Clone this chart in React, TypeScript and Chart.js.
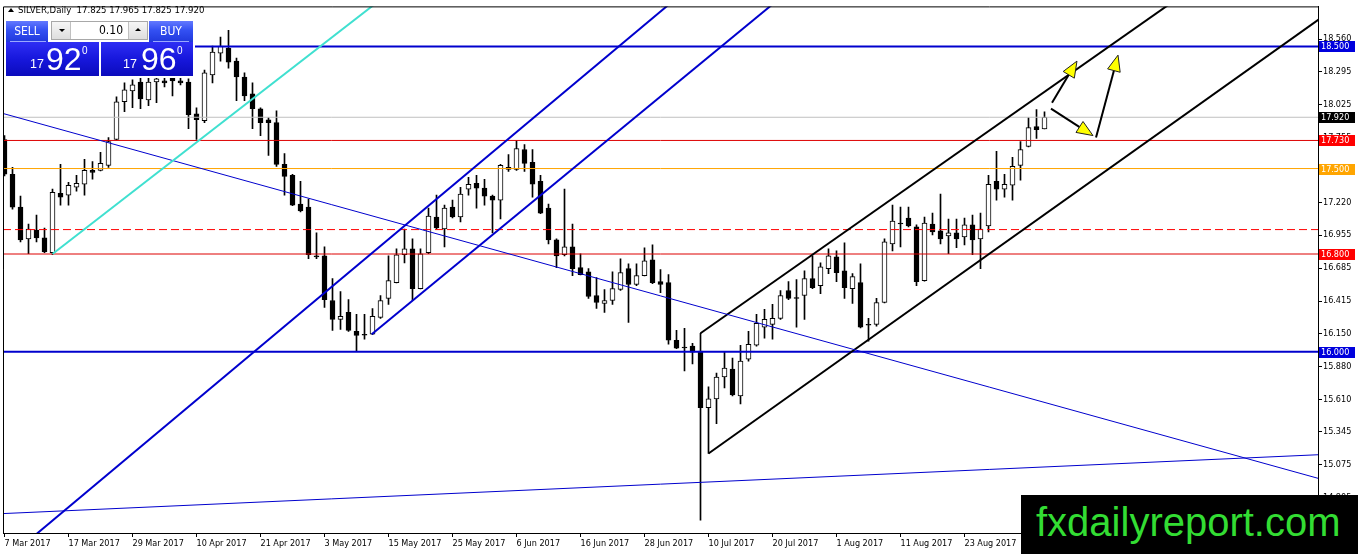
import React, { useEffect, useRef } from 'react';
import { Chart, registerables } from 'chart.js';
Chart.register(...registerables);

// ---- data ----
const opens = [17.738,17.453,17.184,16.924,16.997,16.932,16.810,17.298,17.282,17.347,17.371,17.485,17.485,17.526,17.738,18.047,18.136,18.209,18.063,18.209,18.218,18.250,18.218,18.209,17.949,17.892,18.266,18.445,18.486,18.380,18.250,18.112,17.990,17.900,17.876,17.534,17.444,17.209,17.184,16.785,16.785,16.419,16.265,16.322,16.167,16.143,16.143,16.281,16.436,16.566,16.794,16.843,16.517,16.810,17.103,17.005,17.184,17.103,17.331,17.379,17.339,17.274,17.241,17.493,17.493,17.656,17.550,17.396,17.176,16.916,16.794,16.859,16.688,16.655,16.460,16.395,16.419,16.509,16.680,16.550,16.623,16.753,16.574,16.566,16.094,16.037,16.045,16.004,15.541,15.614,15.793,15.858,15.638,15.939,16.053,16.200,16.224,16.273,16.501,16.444,16.460,16.598,16.541,16.680,16.777,16.663,16.517,16.566,16.224,16.224,16.403,16.883,17.054,17.095,17.022,16.582,17.046,16.989,16.948,16.973,16.940,17.038,16.924,17.030,17.396,17.331,17.363,17.526,17.681,17.843,17.825];
const highs = [17.770,17.510,17.274,17.046,17.119,17.013,17.331,17.534,17.388,17.444,17.575,17.558,17.632,17.754,18.087,18.201,18.226,18.266,18.266,18.299,18.283,18.315,18.283,18.234,17.998,18.307,18.502,18.576,18.632,18.405,18.283,18.201,17.998,17.917,17.973,17.623,17.453,17.396,17.249,16.973,16.859,16.598,16.493,16.427,16.305,16.305,16.354,16.460,16.785,16.843,17.005,16.924,16.843,17.176,17.282,17.200,17.241,17.347,17.428,17.444,17.412,17.282,17.534,17.615,17.729,17.697,17.656,17.444,17.209,16.924,17.331,17.046,16.802,16.680,16.606,16.509,16.655,16.761,16.720,16.720,16.851,16.875,16.672,16.631,16.175,16.191,16.069,16.151,15.712,15.825,15.996,15.947,16.053,16.167,16.305,16.346,16.387,16.501,16.574,16.590,16.663,16.785,16.728,16.843,16.826,16.891,16.639,16.720,16.273,16.436,16.924,17.200,17.184,17.184,17.038,17.103,17.135,17.290,17.087,17.087,17.095,17.119,17.135,17.444,17.640,17.453,17.591,17.721,17.917,17.982,17.965];
const lows = [17.440,17.168,16.899,16.802,16.899,16.810,16.794,17.200,17.200,17.314,17.282,17.412,17.480,17.510,17.735,17.965,17.998,17.990,18.014,18.039,18.169,18.095,18.185,17.827,17.738,17.876,18.201,18.380,18.323,18.055,18.055,17.827,17.770,17.607,17.518,17.282,17.195,17.144,16.761,16.761,16.362,16.175,16.183,16.167,16.004,16.102,16.140,16.273,16.387,16.563,16.728,16.419,16.514,16.802,17.005,16.859,17.095,17.062,17.282,17.176,17.200,16.973,17.087,17.477,17.485,17.477,17.266,17.130,16.883,16.688,16.785,16.623,16.628,16.436,16.354,16.322,16.387,16.501,16.240,16.541,16.620,16.558,16.484,16.061,16.025,15.842,15.899,14.621,15.166,15.410,15.703,15.638,15.573,15.923,16.045,16.110,16.102,16.265,16.427,16.200,16.265,16.517,16.476,16.639,16.574,16.436,16.395,16.195,16.086,16.208,16.400,16.826,16.859,17.022,16.541,16.578,16.956,16.883,16.802,16.851,16.875,16.794,16.680,16.981,17.241,17.266,17.241,17.404,17.678,17.746,17.825];
const closes = [17.453,17.184,16.916,17.005,16.932,16.818,17.306,17.266,17.363,17.379,17.485,17.469,17.542,17.721,18.047,18.144,18.185,18.071,18.209,18.234,18.201,18.218,18.201,17.941,17.900,18.283,18.454,18.502,18.372,18.250,18.095,17.990,17.876,17.876,17.534,17.436,17.200,17.152,16.794,16.777,16.427,16.265,16.289,16.175,16.134,16.136,16.289,16.419,16.582,16.794,16.843,16.517,16.802,17.111,17.013,17.176,17.103,17.290,17.371,17.339,17.274,17.241,17.526,17.510,17.664,17.542,17.371,17.135,16.916,16.785,16.859,16.680,16.631,16.452,16.403,16.419,16.517,16.647,16.550,16.623,16.745,16.566,16.550,16.094,16.029,16.030,15.996,15.541,15.614,15.793,15.866,15.646,15.923,16.061,16.232,16.265,16.273,16.460,16.436,16.437,16.598,16.525,16.696,16.785,16.647,16.525,16.615,16.200,16.217,16.403,16.899,17.070,17.047,17.030,16.574,17.054,16.981,16.924,16.973,16.924,17.038,16.916,17.005,17.371,17.331,17.371,17.518,17.656,17.835,17.819,17.920];

const tickIndex = [0, 8, 16, 24, 32, 40, 48, 56, 64, 72, 80, 88, 96, 104, 112, 120];
const tickLabels = ['7 Mar 2017','17 Mar 2017','29 Mar 2017','10 Apr 2017','21 Apr 2017','3 May 2017','15 May 2017','25 May 2017','6 Jun 2017','16 Jun 2017','28 Jun 2017','10 Jul 2017','20 Jul 2017','1 Aug 2017','11 Aug 2017','23 Aug 2017'];
const priceTicks = [18.56, 18.295, 18.025, 17.755, 17.49, 17.22, 16.955, 16.685, 16.415, 16.15, 15.88, 15.61, 15.345, 15.075, 14.805];

const levelPrices = [18.5, 17.92, 17.73, 17.5, 17.0, 16.8, 16.0];
const levelStyles = [
  { color: '#0000cd', width: 2, dash: [] as number[], label: '#0000dd' },
  { color: '#c0c0c0', width: 1, dash: [] as number[], label: '#000000' },
  { color: '#dd0000', width: 1, dash: [] as number[], label: '#ff0000' },
  { color: '#ffa500', width: 1, dash: [] as number[], label: '#ffa500' },
  { color: '#ff0000', width: 1, dash: [8, 4], label: '' },
  { color: '#dd0000', width: 1, dash: [] as number[], label: '#ff0000' },
  { color: '#0000cd', width: 2, dash: [] as number[], label: '#0000dd' },
];

// trend lines: [bar index, price]
const trendStart = [[6, 16.80], [-0.1875, 17.951], [-0.1875, 14.674], [4, 14.507], [45.9, 16.143], [87, 16.151], [88, 15.166]];
const trendEnd = [[47, 18.883], [164.1875, 14.963], [164.1875, 15.156], [83, 18.841], [96, 18.845], [146, 18.864], [165, 18.755]];
const trendStyles = [
  { color: '#40e0d0', width: 2 },
  { color: '#0000cd', width: 1 },
  { color: '#0000cd', width: 1 },
  { color: '#0000cd', width: 2 },
  { color: '#0000cd', width: 2 },
  { color: '#000000', width: 2 },
  { color: '#000000', width: 2 },
];

const arrowTail = [[130.94, 18.039], [130.81, 17.990], [136.44, 17.754]];
const arrowTip = [[134.06, 18.380], [136.06, 17.770], [139.19, 18.429]];

const X_MIN = -0.1875;
const X_MAX = 164.1875;
const Y_MIN = 14.515;
const Y_MAX = 18.828;

const FONT = "'DejaVu Sans Condensed', 'Liberation Sans', sans-serif";
const NUMFONT = "'Liberation Sans', Arial, sans-serif";

const framePlugin = {
  id: 'frame',
  afterDraw(chart: any) {
    const { ctx, chartArea } = chart;
    ctx.save();
    ctx.strokeStyle = '#000';
    ctx.lineWidth = 1;
    ctx.beginPath();
    ctx.moveTo(chartArea.left + 0.5, chartArea.bottom);
    ctx.lineTo(chartArea.left + 0.5, chartArea.top + 0.5);
    ctx.lineTo(chartArea.right, chartArea.top + 0.5);
    ctx.stroke();
    ctx.restore();
  },
};

const arrowPlugin = {
  id: 'arrows',
  afterDatasetsDraw(chart: any) {
    const { ctx, scales } = chart;
    ctx.save();
    arrowTail.forEach((t, k) => {
      const h = arrowTip[k];
      const x1 = scales.x.getPixelForValue(t[0]);
      const y1 = scales.y.getPixelForValue(t[1]);
      const x2 = scales.x.getPixelForValue(h[0]);
      const y2 = scales.y.getPixelForValue(h[1]);
      const dx = x2 - x1, dy = y2 - y1;
      const len = Math.hypot(dx, dy);
      const ux = dx / len, uy = dy / len;
      const hl = 16, hw = 6.5;
      const bx = x2 - ux * hl, by = y2 - uy * hl;
      ctx.strokeStyle = '#000';
      ctx.lineWidth = 2;
      ctx.beginPath();
      ctx.moveTo(x1, y1);
      ctx.lineTo(bx + ux * 2, by + uy * 2);
      ctx.stroke();
      ctx.beginPath();
      ctx.moveTo(x2, y2);
      ctx.lineTo(bx - uy * hw, by + ux * hw);
      ctx.lineTo(bx + uy * hw, by - ux * hw);
      ctx.closePath();
      ctx.fillStyle = '#ffff00';
      ctx.fill();
      ctx.lineWidth = 1;
      ctx.strokeStyle = '#222';
      ctx.stroke();
    });
    ctx.restore();
  },
};

const labelPlugin = {
  id: 'priceLabels',
  afterDraw(chart: any) {
    const { ctx, chartArea, scales } = chart;
    ctx.save();
    ctx.font = '9px ' + FONT;
    ctx.textBaseline = 'middle';
    ctx.textAlign = 'left';
    levelPrices.forEach((v, k) => {
      const st = levelStyles[k];
      if (!st.label) return;
      const py = Math.round(scales.y.getPixelForValue(v));
      ctx.fillStyle = st.label;
      ctx.fillRect(chartArea.right + 1, py - 5, 36, 11);
      ctx.fillStyle = '#ffffff';
      ctx.fillText(v.toFixed(3), chartArea.right + 3, py + 0.5);
    });
    ctx.restore();
  },
};

function buildConfig(): any {
  const idx = opens.map((_, i) => i);
  const datasets: any[] = [];
  datasets.push({
    type: 'bar',
    data: idx.map((i) => ({ x: i, y: [opens[i], closes[i]] })),
    backgroundColor: idx.map((i) => (closes[i] >= opens[i] ? '#ffffff' : '#000000')),
    borderColor: '#000000',
    borderWidth: 1,
    borderSkipped: false,
    barThickness: 5,
    maxBarThickness: 5,
    grouped: false,
    order: 10,
  });
  datasets.push({
    type: 'bar',
    data: idx.map((i) => ({ x: i, y: [lows[i], highs[i]] })),
    backgroundColor: '#000000',
    borderWidth: 0,
    barThickness: 1,
    maxBarThickness: 1,
    grouped: false,
    order: 11,
  });
  levelPrices.forEach((v, k) => {
    const st = levelStyles[k];
    datasets.push({
      type: 'line',
      data: [{ x: X_MIN, y: v }, { x: X_MAX, y: v }],
      borderColor: st.color,
      borderWidth: st.width,
      borderDash: st.dash,
      pointRadius: 0,
      fill: false,
      clip: 0,
      order: 1,
    });
  });
  trendStart.forEach((s, k) => {
    const e = trendEnd[k];
    const st = trendStyles[k];
    datasets.push({
      type: 'line',
      data: [{ x: s[0], y: s[1] }, { x: e[0], y: e[1] }],
      borderColor: st.color,
      borderWidth: st.width,
      pointRadius: 0,
      fill: false,
      clip: 0,
      order: 0,
    });
  });
  return {
    type: 'bar',
    data: { datasets },
    options: {
      animation: false,
      responsive: false,
      events: [],
      layout: { padding: { left: 3, top: 3, right: 0, bottom: 0 }, autoPadding: false },
      plugins: { legend: { display: false }, tooltip: { enabled: false } },
      scales: {
        x: {
          type: 'linear',
          min: X_MIN,
          max: X_MAX,
          offset: false,
          afterFit: (s: any) => { s.height = 21; },
          afterBuildTicks: (s: any) => { s.ticks = tickIndex.map((v) => ({ value: v })); },
          ticks: {
            callback: (v: any) => {
              const k = tickIndex.indexOf(Number(v));
              return k >= 0 ? tickLabels[k] : '';
            },
            align: 'start',
            autoSkip: false,
            maxRotation: 0,
            minRotation: 0,
            padding: 1,
            color: '#000',
            font: { family: FONT, size: 9 },
          },
          grid: { drawOnChartArea: false, drawTicks: true, tickLength: 4, color: '#000', offset: false },
          border: { display: true, color: '#000', width: 1 },
        },
        y: {
          type: 'linear',
          position: 'right',
          min: Y_MIN,
          max: Y_MAX,
          beginAtZero: false,
          afterFit: (s: any) => { s.width = 40; },
          afterBuildTicks: (s: any) => { s.ticks = priceTicks.map((v) => ({ value: v })); },
          ticks: {
            callback: (v: any) => Number(v).toFixed(3),
            autoSkip: false,
            padding: 1,
            color: '#000',
            font: { family: FONT, size: 9 },
          },
          grid: { drawOnChartArea: false, drawTicks: true, tickLength: 4, color: '#000' },
          border: { display: true, color: '#000', width: 1 },
        },
      },
    },
    plugins: [framePlugin, arrowPlugin, labelPlugin],
  };
}

const btnGrad = 'linear-gradient(to bottom, #6379ff 0%, #3350f2 45%, #2038dc 100%)';
const boxGrad = 'linear-gradient(to bottom, #2e2ef4 0%, #1717dc 50%, #0b0bbc 100%)';
const grayGrad = 'linear-gradient(to bottom, #f6f6f6 0%, #dedede 100%)';

function abs(left: number, top: number, extra: any = {}): any {
  return { position: 'absolute', left, top, ...extra };
}

export default function App() {
  const ref = useRef<HTMLCanvasElement>(null);
  useEffect(() => {
    const chart = new Chart(ref.current as HTMLCanvasElement, buildConfig());
    return () => chart.destroy();
  }, []);
  const numStyle = (left: number, top: number, size: number) =>
    abs(left, top, { fontFamily: NUMFONT, fontSize: size, lineHeight: 1, color: '#fff' });
  return (
    <div style={{ position: 'fixed', left: 0, top: 0, width: 1358, height: 554, background: '#fff', overflow: 'hidden' }}>
      <canvas ref={ref} width={1358} height={554} style={{ display: 'block', width: 1358, height: 554 }} />
      {/* header */}
      <div style={abs(8, 8, { width: 0, height: 0, borderLeft: '3px solid transparent', borderRight: '3px solid transparent', borderBottom: '4px solid #000' })} />
      <div style={abs(18, 3, { fontFamily: FONT, fontSize: 9.5, lineHeight: '14px', whiteSpace: 'pre', color: '#000' })}>SILVER,Daily  17.825 17.965 17.825 17.920</div>
      {/* trading panel */}
      <div style={abs(4, 19, { width: 191, height: 59, background: '#fff' })} />
      <div style={abs(6, 21, { width: 42, height: 21, background: btnGrad, color: '#fff', fontFamily: FONT, fontSize: 12, lineHeight: '20px', textAlign: 'center' })}>SELL</div>
      <div style={abs(10, 41, { width: 36, height: 1, background: '#9aa8ff' })} />
      <div style={abs(51, 21, { width: 97, height: 19, background: '#fff', border: '1px solid #a8a8a8', boxSizing: 'border-box' })} />
      <div style={abs(52, 22, { width: 19, height: 17, background: grayGrad, borderRight: '1px solid #c0c0c0', boxSizing: 'border-box' })}>
        <div style={abs(7, 7, { width: 0, height: 0, borderLeft: '3px solid transparent', borderRight: '3px solid transparent', borderTop: '3px solid #000' })} />
      </div>
      <div style={abs(72, 22, { width: 51, height: 17, fontFamily: FONT, fontSize: 12, lineHeight: '17px', textAlign: 'right', color: '#000' })}>0.10</div>
      <div style={abs(128, 22, { width: 19, height: 17, background: grayGrad, borderLeft: '1px solid #c0c0c0', boxSizing: 'border-box' })}>
        <div style={abs(6, 6, { width: 0, height: 0, borderLeft: '3px solid transparent', borderRight: '3px solid transparent', borderBottom: '3px solid #000' })} />
      </div>
      <div style={abs(149, 21, { width: 44, height: 21, background: btnGrad, color: '#fff', fontFamily: FONT, fontSize: 12, lineHeight: '20px', textAlign: 'center' })}>BUY</div>
      <div style={abs(153, 41, { width: 36, height: 1, background: '#9aa8ff' })} />
      <div style={abs(6, 42, { width: 93, height: 34, background: boxGrad })} />
      <div style={abs(101, 42, { width: 92, height: 34, background: boxGrad })} />
      <span style={numStyle(30, 58, 12.5)}>17</span>
      <span style={numStyle(46, 43, 32)}>92</span>
      <span style={numStyle(82, 45.5, 10)}>0</span>
      <span style={numStyle(123, 58, 12.5)}>17</span>
      <span style={numStyle(141, 43, 32)}>96</span>
      <span style={numStyle(177, 45.5, 10)}>0</span>
      {/* watermark */}
      <div style={abs(1021, 495, { width: 337, height: 59, background: '#000', color: '#33dd33', fontFamily: NUMFONT, fontSize: 40, lineHeight: '54px', paddingLeft: 15, boxSizing: 'border-box', whiteSpace: 'nowrap' })}>fxdailyreport.com</div>
    </div>
  );
}
